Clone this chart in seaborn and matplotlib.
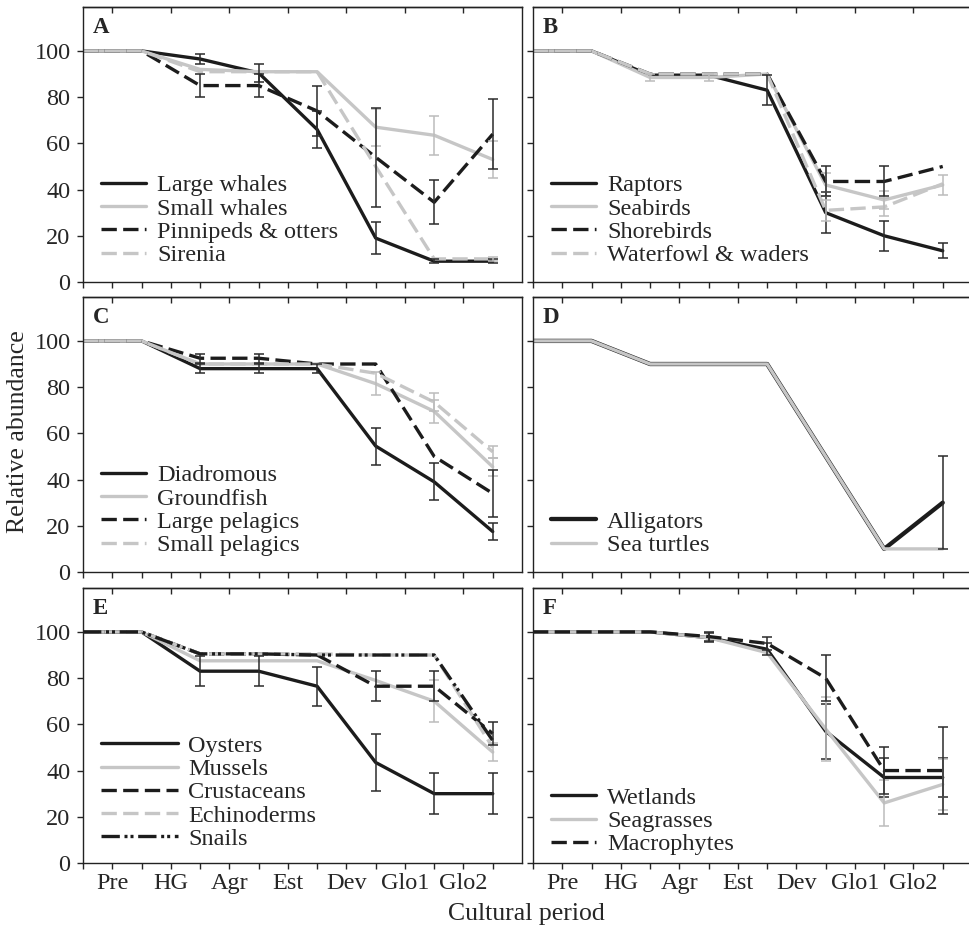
import numpy as np
import pandas as pd
import seaborn as sns
import matplotlib.pyplot as plt

sns.set_style("ticks")
plt.rcParams["font.family"] = ["Liberation Serif", "DejaVu Serif"]
plt.rcParams["axes.linewidth"] = 1.0

periods = ["Pre", "HG", "Agr", "Est", "Dev", "Glo1", "Glo2"]
steps = [0, 1, 2, 3, 4, 5, 6, 7]

# A  marine mammals
large_whales = [100, 100, 96.5, 90.5, 66, 19, 9, 9]
large_whales_err = [0, 0, 2, 4, 8, 7, 0.8, 0.8]
small_whales = [100, 100, 92, 91, 91, 67, 63.5, 53]
small_whales_err = [0, 0, 0, 0, 0, 8, 8.5, 8]
pinnipeds = [100, 100, 85, 85, 74, 54, 34.5, 64]
pinnipeds_err = [0, 0, 5, 5, 11, 21.5, 9.5, 15]
sirenia = [100, 100, 91, 91, 91, 50, 10, 10]
sirenia_err = [0, 0, 0, 0, 0, 0, 0, 0.8]

# B  birds
raptors = [100, 100, 89.5, 89.5, 83, 30, 20, 13.5]
raptors_err = [0, 0, 0, 0, 6.5, 9, 6.5, 3.3]
seabirds = [100, 100, 88.5, 88.5, 90, 42, 35.5, 42]
seabirds_err = [0, 0, 1.5, 1.5, 0, 5, 4, 4.5]
shorebirds = [100, 100, 90, 90, 90, 43.5, 43.5, 50]
shorebirds_err = [0, 0, 0, 0, 0, 6.5, 6.5, 0]
waterfowl = [100, 100, 90, 90, 90, 31, 32.5, 42.5]
waterfowl_err = [0, 0, 0, 0, 0, 4.5, 4, 0]

# C  fish
diadromous = [100, 100, 88, 88, 88, 54.5, 39, 17.5]
diadromous_err = [0, 0, 2, 2, 2, 8, 8, 3.6]
groundfish = [100, 100, 90, 90, 90, 81.5, 69.5, 45.5]
groundfish_err = [0, 0, 0, 0, 0, 5, 5, 4]
large_pelagics = [100, 100, 92.5, 92.5, 90, 90, 50, 34]
large_pelagics_err = [0, 0, 2, 2, 0, 0, 0, 10]
small_pelagics = [100, 100, 90, 90, 90, 86, 73.5, 52]
small_pelagics_err = [0, 0, 0, 0, 0, 0, 4, 2.5]

# D  reptiles
alligators = [100, 100, 90, 90, 90, 50, 10, 30]
alligators_err = [0, 0, 0, 0, 0, 0, 0, 20]
sea_turtles = [100, 100, 90, 90, 90, 50, 10, 10]
sea_turtles_err = [0, 0, 0, 0, 0, 0, 0, 0]

# E  invertebrates
oysters = [100, 100, 83, 83, 76.5, 43.5, 30, 30]
oysters_err = [0, 0, 6.5, 6.5, 8.5, 12.5, 9, 9]
mussels = [100, 100, 87.5, 87.5, 87.5, 79, 70, 48]
mussels_err = [0, 0, 0, 0, 0, 0, 9, 4]
crustaceans = [100, 100, 90.5, 90.5, 90, 76.5, 76.5, 56]
crustaceans_err = [0, 0, 0, 0, 0, 6.5, 6.5, 5]
echinoderms = [100, 100, 90.5, 90.5, 90.5, 90, 90, 50]
echinoderms_err = [0, 0, 0, 0, 0, 0, 0, 0]
snails = [100, 100, 90.5, 90.5, 90, 90, 90, 53]
snails_err = [0, 0, 0, 0, 0, 0, 0, 0]

# F  plants
wetlands = [100, 100, 100, 97.5, 92.5, 57, 37, 37]
wetlands_err = [0, 0, 0, 2, 2.5, 12, 8.5, 8.5]
seagrasses = [100, 100, 100, 97.5, 91, 58, 26, 34]
seagrasses_err = [0, 0, 0, 0, 0, 14, 10, 11]
macrophytes = [100, 100, 100, 98, 95, 80, 40, 40]
macrophytes_err = [0, 0, 0, 2, 3, 10, 10, 19]

BLACK = "#1c1c1c"
GRAY = "#c6c6c6"
solid = "-"
dashed = (0, (4.6, 1.9))
dashdotdot = (0, (5.5, 1.4, 0.9, 0.9, 0.9, 1.4))

panels = [
    ("A", [("Large whales", large_whales, large_whales_err, BLACK, solid),
           ("Small whales", small_whales, small_whales_err, GRAY, solid),
           ("Pinnipeds & otters", pinnipeds, pinnipeds_err, BLACK, dashed),
           ("Sirenia", sirenia, sirenia_err, GRAY, dashed)]),
    ("B", [("Raptors", raptors, raptors_err, BLACK, solid),
           ("Seabirds", seabirds, seabirds_err, GRAY, solid),
           ("Shorebirds", shorebirds, shorebirds_err, BLACK, dashed),
           ("Waterfowl & waders", waterfowl, waterfowl_err, GRAY, dashed)]),
    ("C", [("Diadromous", diadromous, diadromous_err, BLACK, solid),
           ("Groundfish", groundfish, groundfish_err, GRAY, solid),
           ("Large pelagics", large_pelagics, large_pelagics_err, BLACK, dashed),
           ("Small pelagics", small_pelagics, small_pelagics_err, GRAY, dashed)]),
    ("D", [("Alligators", alligators, alligators_err, BLACK, solid),
           ("Sea turtles", sea_turtles, sea_turtles_err, GRAY, solid)]),
    ("E", [("Oysters", oysters, oysters_err, BLACK, solid),
           ("Mussels", mussels, mussels_err, GRAY, solid),
           ("Crustaceans", crustaceans, crustaceans_err, BLACK, dashed),
           ("Echinoderms", echinoderms, echinoderms_err, GRAY, dashed),
           ("Snails", snails, snails_err, BLACK, dashdotdot)]),
    ("F", [("Wetlands", wetlands, wetlands_err, BLACK, solid),
           ("Seagrasses", seagrasses, seagrasses_err, GRAY, solid),
           ("Macrophytes", macrophytes, macrophytes_err, BLACK, dashed)]),
]

W, H = 969, 927
fig = plt.figure(figsize=(W / 100, H / 100), dpi=100)

col_left = [83, 533]
rows = [(7, 282), (297, 572), (588, 863)]
ax_w = 439
legend_y = [0.058, 0.058, 0.058, 0.058, 0.048, 0.028]
handle_len = [1.85, 1.85, 1.85, 1.85, 3.15, 1.85]
FS = 17.5

for i, (letter, series) in enumerate(panels):
    r, c = divmod(i, 2)
    top, bot = rows[r]
    ax = fig.add_axes([col_left[c] / W, 1 - bot / H, ax_w / W, (bot - top) / H])

    for name, vals, err, color, ls in series:
        lw = 3.1 if (letter == "D" and color == BLACK) else 2.4
        df = pd.DataFrame({"step": steps, "value": vals})
        sns.lineplot(data=df, x="step", y="value", ax=ax, color=color,
                     linestyle=ls, linewidth=lw, label=name, errorbar=None)

    for name, vals, err, color, ls in series:
        e = np.array(err, dtype=float)
        m = e > 0
        if m.any():
            ecol = "#2b2b2b" if color == BLACK else "#bcbcbc"
            ax.errorbar(np.array(steps)[m], np.array(vals)[m], yerr=e[m],
                        fmt="none", ecolor=ecol, elinewidth=1.1,
                        capsize=3.6, capthick=1.1, zorder=3)

    ax.set_xlim(0, 7.5)
    ax.set_ylim(0, 119)
    ax.set_xlabel("")
    ax.set_ylabel("")

    ax.set_xticks(steps)
    ax.set_xticklabels([])
    ax.set_xticks(np.arange(7) + 0.5, minor=True)
    if r == 2:
        ax.set_xticklabels(periods, minor=True, fontsize=FS)
    else:
        ax.set_xticklabels([], minor=True)
    ax.tick_params(axis="x", which="both", direction="out", length=4,
                   width=1, top=False, pad=3)

    ax.set_yticks(range(0, 101, 20))
    if c == 0:
        ax.set_yticklabels([str(v) for v in range(0, 101, 20)], fontsize=FS)
    else:
        ax.set_yticklabels([])
    ax.tick_params(axis="y", direction="out", length=4, width=1,
                   right=False, pad=5)

    sec = ax.secondary_xaxis("top")
    sec.set_xticks(np.arange(7) + 0.5)
    sec.tick_params(direction="in", length=4, width=1, labeltop=False)

    for sp in ax.spines.values():
        sp.set_visible(True)
        sp.set_color("#222222")

    ax.text(0.022, 0.965, letter, transform=ax.transAxes, ha="left", va="top",
            fontsize=16.5, fontweight="bold")

    ax.legend(loc="lower left", bbox_to_anchor=(0.041, legend_y[i]),
              frameon=False, fontsize=FS, borderpad=0, borderaxespad=0,
              handlelength=handle_len[i], handletextpad=0.45,
              labelspacing=0.05)

fig.text(18 / W, 1 - 432 / H, "Relative abundance", rotation=90,
         ha="center", va="center", fontsize=18.5)
fig.text(526 / W, 1 - 914 / H, "Cultural period", ha="center",
         va="center", fontsize=18.5)

fig.savefig("out.png", dpi=100)
